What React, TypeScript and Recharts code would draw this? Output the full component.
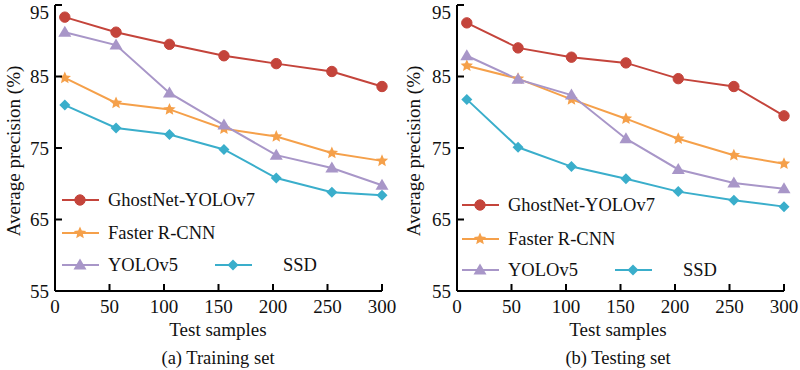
import React from 'react';
import { LineChart, Line, XAxis, YAxis } from 'recharts';

const xSamples = [9, 56, 105, 155, 203, 254, 300];
const xTicks = [0, 50, 100, 150, 200, 250, 300];
const yTicks = [55, 65, 75, 85, 95];
const seriesNames = ['GhostNet-YOLOv7', 'Faster R-CNN', 'YOLOv5', 'SSD'];

const trainGhost = [93.3, 91.2, 89.5, 87.9, 86.8, 85.7, 83.6];
const trainFaster = [84.8, 81.3, 80.4, 77.7, 76.6, 74.3, 73.2];
const trainYolo = [91.2, 89.4, 82.7, 78.2, 74.0, 72.2, 69.8];
const trainSsd = [81.0, 77.8, 76.9, 74.8, 70.8, 68.8, 68.4];

const testGhost = [92.5, 89.0, 87.7, 86.9, 84.7, 83.6, 79.5];
const testFaster = [86.5, 84.7, 81.8, 79.1, 76.3, 74.0, 72.8];
const testYolo = [87.9, 84.6, 82.4, 76.3, 72.0, 70.1, 69.3];
const testSsd = [81.8, 75.1, 72.4, 70.7, 68.9, 67.7, 66.8];

const COLORS = ['#c4443b', '#f5a04a', '#a896c8', '#3aaecb'];
const TXT: React.CSSProperties = { fontFamily: "'Liberation Serif', 'Times New Roman', Times, serif" };

const build = (g: number[], f: number[], y: number[], s: number[]) =>
  xSamples.map((x, i) => ({ x, ghost: g[i], faster: f[i], yolo: y[i], ssd: s[i] }));

const trainData = build(trainGhost, trainFaster, trainYolo, trainSsd);
const testData = build(testGhost, testFaster, testYolo, testSsd);

const starPath = (cx: number, cy: number, ro: number, ri: number) => {
  const pts: string[] = [];
  for (let i = 0; i < 10; i++) {
    const r = i % 2 === 0 ? ro : ri;
    const a = -Math.PI / 2 + (i * Math.PI) / 5;
    pts.push(`${(cx + r * Math.cos(a)).toFixed(2)},${(cy + r * Math.sin(a)).toFixed(2)}`);
  }
  return 'M' + pts.join('L') + 'Z';
};

const Marker = ({ kind, cx, cy, color }: { kind: number; cx: number; cy: number; color: string }) => {
  if (kind === 0) return <circle cx={cx} cy={cy} r={5.2} fill={color} stroke={color} />;
  if (kind === 1) return <path d={starPath(cx, cy, 6.5, 3)} fill={color} />;
  if (kind === 2)
    return (
      <path
        d={`M${cx},${cy - 6.5}L${cx + 6.5},${cy + 4.5}L${cx - 6.5},${cy + 4.5}Z`}
        fill={color}
      />
    );
  return <path d={`M${cx},${cy - 5.5}L${cx + 5.5},${cy}L${cx},${cy + 5.5}L${cx - 5.5},${cy}Z`} fill={color} />;
};

const makeDot = (kind: number) => (props: any) => {
  const { cx, cy, index } = props;
  if (cx == null || cy == null) return <g key={`d-${kind}-${index}`} />;
  return (
    <g key={`d-${kind}-${index}`}>
      <Marker kind={kind} cx={cx} cy={cy} color={COLORS[kind]} />
    </g>
  );
};

const YTick = (props: any) => {
  const { x, y, payload } = props;
  return (
    <g>
      <line x1={x + 7} x2={x + 14} y1={y} y2={y} stroke="#000" strokeWidth={2} />
      <text x={x + 1} y={Math.max(y, 12)} textAnchor="end" dominantBaseline="central" style={TXT} fontSize={19} fill="#111">
        {payload.value}
      </text>
    </g>
  );
};

const XTick = (props: any) => {
  const { x, y, payload } = props;
  return (
    <g>
      <line x1={x} x2={x} y1={y - 4} y2={y - 11} stroke="#000" strokeWidth={2} />
      <text x={x} y={y + 11} textAnchor="middle" dominantBaseline="central" style={TXT} fontSize={19} fill="#111">
        {payload.value}
      </text>
    </g>
  );
};

const keys = ['ghost', 'faster', 'yolo', 'ssd'];

const Panel = ({ data, left, yWidth, right }: { data: any[]; left: number; yWidth: number; right: number }) => (
  <div style={{ position: 'absolute', left, top: 0 }}>
    <LineChart width={400} height={370} data={data} margin={{ top: 5, right, left: 0, bottom: 49 }}>
      <XAxis
        dataKey="x"
        type="number"
        domain={[0, 300]}
        ticks={xTicks}
        height={30}
        tickSize={0}
        tickMargin={4}
        tick={<XTick />}
        axisLine={{ stroke: '#000', strokeWidth: 2 }}
        interval={0}
      />
      <YAxis
        type="number"
        domain={[55, 95]}
        ticks={yTicks}
        width={yWidth}
        tickSize={0}
        tickMargin={7}
        tick={<YTick />}
        axisLine={{ stroke: '#000', strokeWidth: 2 }}
        interval={0}
      />
      {keys.map((k, i) => (
        <Line
          key={k}
          dataKey={k}
          type="linear"
          stroke={COLORS[i]}
          strokeWidth={2}
          dot={makeDot(i)}
          activeDot={false}
          isAnimationActive={false}
        />
      ))}
    </LineChart>
  </div>
);

const LegendItem = ({ x, y, kind, label, textX }: { x: number; y: number; kind: number; label: string; textX: number }) => (
  <g>
    <line x1={x} x2={x + 37} y1={y} y2={y} stroke={COLORS[kind]} strokeWidth={2} />
    <Marker kind={kind} cx={x + 18} cy={y} color={COLORS[kind]} />
    <text x={textX} y={y} dominantBaseline="central" style={TXT} fontSize={18.5} fill="#111">
      {label}
    </text>
  </g>
);

const Overlay = ({ ox, cap, rowY }: { ox: number; cap: string; rowY: number[] }) => (
  <g>
    <LegendItem x={ox + 62} y={rowY[0]} kind={0} label={seriesNames[0]} textX={ox + 108} />
    <LegendItem x={ox + 62} y={rowY[1]} kind={1} label={seriesNames[1]} textX={ox + 108} />
    <LegendItem x={ox + 62} y={rowY[2]} kind={2} label={seriesNames[2]} textX={ox + 108} />
    <LegendItem x={ox + 215} y={rowY[2]} kind={3} label={seriesNames[3]} textX={ox + 283} />
    <text
      transform={`translate(${ox + 13},151) rotate(-90)`}
      textAnchor="middle"
      dominantBaseline="central"
      style={TXT}
      fontSize={19}
      fill="#111"
    >
      Average precision (%)
    </text>
    <text x={ox + 218} y={329} textAnchor="middle" dominantBaseline="central" style={TXT} fontSize={19} fill="#111">
      Test samples
    </text>
    <text x={ox + 218} y={358} textAnchor="middle" dominantBaseline="central" style={TXT} fontSize={18.5} fill="#111">
      {cap}
    </text>
  </g>
);

export default function App() {
  return (
    <div style={{ position: 'absolute', left: 0, top: 0, width: 800, height: 370, background: '#fff', overflow: 'hidden' }}>
      <Panel data={trainData} left={0} yWidth={55} right={18} />
      <Panel data={testData} left={400} yWidth={57} right={16} />
      <svg width={800} height={370} style={{ position: 'absolute', left: 0, top: 0, pointerEvents: 'none' }}>
        <Overlay ox={0} cap="(a) Training set" rowY={[200, 233, 265]} />
        <Overlay ox={400} cap="(b) Testing set" rowY={[205, 239, 270]} />
      </svg>
    </div>
  );
}
